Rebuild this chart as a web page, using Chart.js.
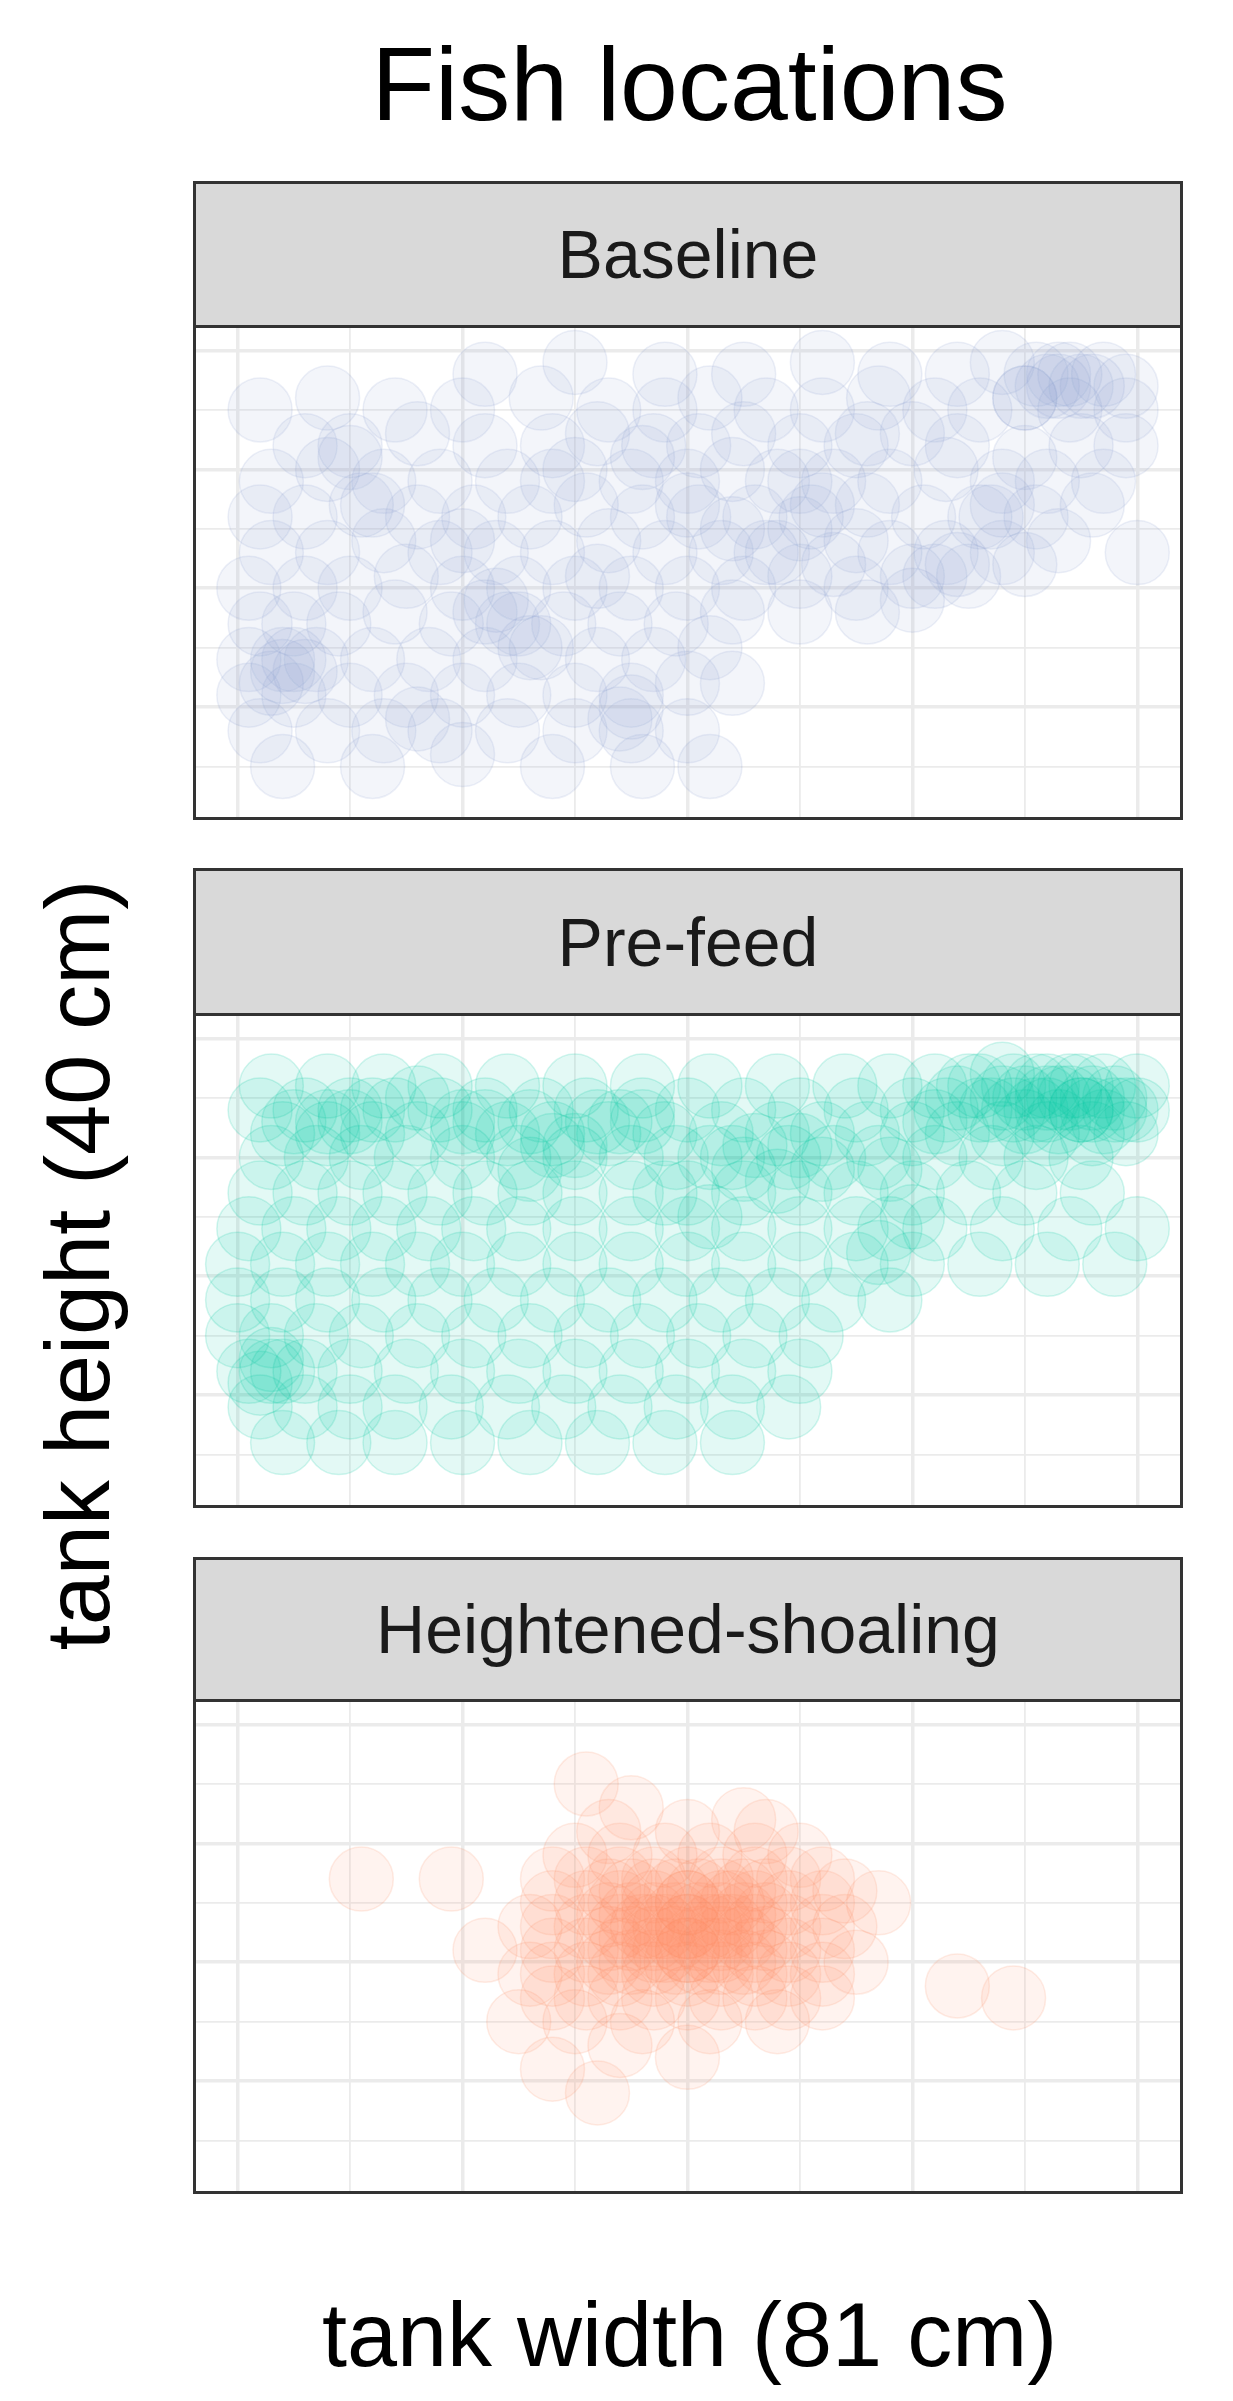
<!DOCTYPE html>
<html>
<head>
<meta charset="utf-8">
<script src="https://cdn.jsdelivr.net/npm/chart.js@4.4.1/dist/chart.umd.min.js"></script>
<style>
  body { margin: 0; background: #fff; font-family: "Liberation Sans", Arial, sans-serif; }
  #page { position: relative; width: 1233px; height: 2401px; }
  .title { position: absolute; left: 196px; width: 987px; top: 22px; line-height: 124px; text-align: center; font-size: 104px; color: #000; }
  .strip { position: absolute; left: 193px; width: 990px; background: #d9d9d9; border: 3px solid #333; box-sizing: border-box;
           text-align: center; font-size: 68px; color: #1a1a1a; }
  .panel { position: absolute; left: 193px; width: 990px; border: 3px solid #333; border-top-width: 2px; box-sizing: border-box; background: #fff; }
  .panel div { position: absolute; inset: 0; }
  .xlab { position: absolute; left: 196px; width: 987px; top: 2280px; line-height: 110px; text-align: center; font-size: 90px; }
  .ylab { position: absolute; left: 78px; top: 1265px; transform: translate(-50%, -50%) rotate(-90deg); white-space: nowrap; font-size: 90px; }
</style>
</head>
<body>
<div id="page">
  <div class="title">Fish locations</div>
  <div class="ylab">tank height (40 cm)</div>
  <div class="xlab">tank width (81 cm)</div>
</div>
<script>
// facet names and colours
const facets = ['Baseline', 'Pre-feed', 'Heightened-shoaling'];
const colors = ['141,160,210', '0,200,160', '252,141,98'];

// fish positions [x cm, y cm]
const baseline = [
  [22,33],[30,34],[38,33],[45,33],[52,34],[58,33],[64,33],[68,34],[71,33],[73,33],[75,32],[77,33],[79,32],
  [2,30],[8,31],[14,30],[20,30],[27,31],[33,30],[38,30],[42,31],[47,30],[52,30],[57,31],[62,30],[66,30],[70,31],[74,30],[79,30],
  [6,27],[10,27],[16,28],[22,27],[28,27],[32,28],[37,27],[41,27],[45,28],[50,27],[55,27],[60,28],[64,27],[70,26],[75,27],[79,27],
  [3,24],[8,25],[13,24],[18,24],[24,24],[30,25],[35,24],[40,24],[44,25],[48,24],[53,24],[58,24],[63,25],[68,24],[72,24],[77,24],
  [2,21],[6,21],[11,22],[16,21],[21,21],[26,21],[31,22],[36,21],[41,21],[46,21],[51,21],[56,22],[61,21],[66,21],[71,21],[76,22],
  [3,18],[8,18],[13,19],[18,18],[23,18],[28,18],[33,19],[38,18],[43,18],[48,18],[53,17],[58,18],[63,18],[68,18],[73,19],[80,18],
  [1,15],[6,15],[10,15],[15,16],[20,15],[25,15],[30,15],[35,15],[40,15],[45,15],[50,16],[55,15],[60,16],[65,16],[70,17],
  [2,12],[5,12],[9,12],[14,13],[19,12],[24,12],[29,12],[34,12],[39,12],[44,13],[50,13],[56,13],
  [1,9],[4,9],[7,9],[12,9],[17,9],[22,9],[27,10],[32,9],[37,9],[42,10],
  [1,6],[5,6],[10,6],[15,6],[20,6],[25,6],[30,6],[35,6],[40,7],[44,7],
  [2,3],[8,3],[13,3],[18,3],[24,3],[30,3],[35,3],[40,3],
  [4,0],[12,0],[20,1],[28,0],[36,0],[42,0],
  [72,32],[74,33],[70,31],[76,32],[73,32],[4,8],[5,9],[3,7],[6,8],[22,13],[25,12],[23,14],[34,4],[35,5],
  [50,20],[52,22],[55,19],[47,18],[67,21],[68,22],[62,16],[64,17],
  [10,26],[12,22],[20,19],[28,24],[36,26],[40,22],[44,20],[50,24],[56,28],[60,14],[32,16],[26,10],[16,4]
];
const prefeed = [
  [3,31],[8,31],[13,31],[18,31],[24,31],[30,31],[36,31],[42,31],[48,31],[54,31],[58,31],[62,31],[65,31],[68,32],[71,31],[74,31],[77,31],[80,31],
  [2,29],[6,29],[10,29],[14,29],[18,29],[22,29],[27,29],[31,29],[36,29],[40,29],[45,29],[50,29],[55,29],[60,29],[63,29],[66,29],[69,29],[72,29],[75,29],[78,29],[80,29],
  [4,27],[8,27],[12,27],[16,27],[20,27],[24,27],[28,27],[33,27],[38,27],[43,27],[48,27],[52,27],[56,27],[60,27],[64,27],[68,27],[72,27],[76,27],[79,27],
  [3,25],[7,25],[11,25],[15,25],[20,25],[25,25],[30,25],[35,25],[39,25],[44,25],[49,25],[53,25],[57,25],[62,25],[67,25],[71,25],[75,25],
  [2,22],[6,22],[10,22],[14,22],[18,22],[22,22],[26,22],[30,22],[35,22],[40,22],[45,22],[50,22],[55,22],[60,22],[65,22],[70,22],[76,22],
  [1,19],[5,19],[9,19],[13,19],[17,19],[21,19],[25,19],[30,19],[35,19],[40,19],[45,19],[50,19],[55,19],[58,19],[62,19],[68,19],[74,19],[80,19],
  [0,16],[4,16],[8,16],[12,16],[16,16],[20,16],[25,16],[30,16],[35,16],[40,16],[45,16],[50,16],[55,16],[60,16],[66,16],[72,16],[78,16],
  [0,13],[4,13],[8,13],[13,13],[18,13],[23,13],[28,13],[33,13],[38,13],[43,13],[48,13],[53,13],[58,13],
  [0,10],[3,10],[7,10],[11,10],[16,10],[21,10],[26,10],[31,10],[36,10],[41,10],[46,10],[51,10],
  [1,7],[3,7],[6,7],[10,7],[15,7],[20,7],[25,7],[30,7],[35,7],[40,7],[45,7],[50,7],
  [2,4],[6,4],[10,4],[14,4],[19,4],[24,4],[29,4],[34,4],[39,4],[44,4],[49,4],
  [4,1],[9,1],[14,1],[20,1],[26,1],[32,1],[38,1],[44,1],
  [70,30],[72,30],[74,30],[76,30],[68,30],[66,31],[73,28],[77,28],[70,28],[64,30],[62,28],[78,30],[75,31],
  [8,28],[10,28],[20,28],[22,28],[32,28],[34,28],[28,26],[30,26],[45,24],[48,23],[50,26],[3,8],[4,7],[2,6],
  [46,26],[52,24],[58,24],[60,20],[57,17],[42,20],[38,22],[26,24],
  [71,29],[73,30],[75,29],[69,31],[67,29],[72,31],[76,29],[79,29],[5,28],[12,29],[16,30],[26,28],[36,28],[42,25]
];
const shoaling = [
  [11,22],[19,22],[31,30],[32,4],[64,13],[69,12],[22,16],[25,10],[57,20],[55,15],[35,28],[45,27],[28,6],[40,7],
  [28,12],[31,12],[34,12],[37,12],[40,12],[43,12],[46,12],[49,12],[52,12],
  [28,14],[31,14],[34,14],[37,14],[40,14],[43,14],[46,14],[49,14],[52,14],
  [28,16],[31,16],[34,16],[37,16],[40,16],[43,16],[46,16],[49,16],[52,16],
  [28,18],[31,18],[34,18],[37,18],[40,18],[43,18],[46,18],[49,18],[52,18],
  [28,20],[31,20],[34,20],[37,20],[40,20],[43,20],[46,20],[49,20],[52,20],
  [28,22],[31,22],[34,22],[37,22],[40,22],[43,22],[46,22],[49,22],[52,22],
  [30,24],[34,24],[38,24],[42,24],[46,24],[50,24],[33,26],[40,26],[47,26],
  [26,18],[26,14],[54,18],[54,21],[30,10],[36,10],[42,10],[48,10],[34,8],
  [33,15],[35,15],[37,15],[39,15],[41,15],[43,15],[45,15],[47,15],
  [33,17],[35,17],[37,17],[39,17],[41,17],[43,17],[45,17],[47,17],
  [33,19],[35,19],[37,19],[39,19],[41,19],[43,19],[45,19],[47,19],
  [33,21],[35,21],[37,21],[39,21],[41,21],[43,21],[45,21],[47,21],
  [38,18],[40,18],[42,18],[44,18],[38,16],[40,16],[42,16],[44,20],[40,20],[36,18]
];
const datasets = [baseline, prefeed, shoaling];
const alphas = [0.1, 0.11, 0.1];

// ggplot-style grid: majors every 20 (x) / on 5,15,25,35 (y)
const xTicks = [0, 10, 20, 30, 40, 50, 60, 70, 80];
const yTicks = [0, 5, 10, 15, 20, 25, 30, 35];

const stripTops = [181, 868, 1557];
const plotTops = [326, 1014, 1700];
const plotH = 494;
const page = document.getElementById('page');

facets.forEach((name, i) => {
  const strip = document.createElement('div');
  strip.className = 'strip';
  strip.style.top = stripTops[i] + 'px';
  strip.style.height = (plotTops[i] - stripTops[i] + 2) + 'px';
  strip.style.lineHeight = (plotTops[i] - stripTops[i] - 4) + 'px';
  strip.textContent = name;
  page.appendChild(strip);

  const panel = document.createElement('div');
  panel.className = 'panel';
  panel.style.top = plotTops[i] + 'px';
  panel.style.height = plotH + 'px';
  const inner = document.createElement('div');
  const cv = document.createElement('canvas');
  inner.appendChild(cv);
  panel.appendChild(inner);
  page.appendChild(panel);

  const c = colors[i];
  new Chart(cv, {
    type: 'scatter',
    data: {
      datasets: [{
        data: datasets[i].map(p => ({ x: p[0], y: p[1] })),
        pointRadius: 32,
        pointHoverRadius: 32,
        backgroundColor: 'rgba(' + c + ',' + alphas[i] + ')',
        borderColor: 'rgba(' + c + ',' + (alphas[i] + 0.07) + ')',
        borderWidth: 1.5,
        clip: 0
      }]
    },
    options: {
      responsive: true,
      maintainAspectRatio: false,
      animation: false,
      layout: { padding: 0, autoPadding: false },
      plugins: { legend: { display: false }, tooltip: { enabled: false } },
      scales: {
        x: {
          type: 'linear', min: -3.7, max: 83.8,
          afterBuildTicks: ax => { ax.ticks = xTicks.map(v => ({ value: v })); },
          ticks: { display: false },
          border: { display: false },
          grid: { drawTicks: false, color: '#ebebeb', lineWidth: ctx => ctx.tick && ctx.tick.value % 20 === 0 ? 3.5 : 1.8 }
        },
        y: {
          type: 'linear', min: -4.25, max: 36.9,
          afterBuildTicks: ax => { ax.ticks = yTicks.map(v => ({ value: v })); },
          ticks: { display: false },
          border: { display: false },
          grid: { drawTicks: false, color: '#ebebeb', lineWidth: ctx => ctx.tick && ctx.tick.value % 10 === 5 ? 3.5 : 1.8 }
        }
      }
    }
  });
});
</script>
</body>
</html>
